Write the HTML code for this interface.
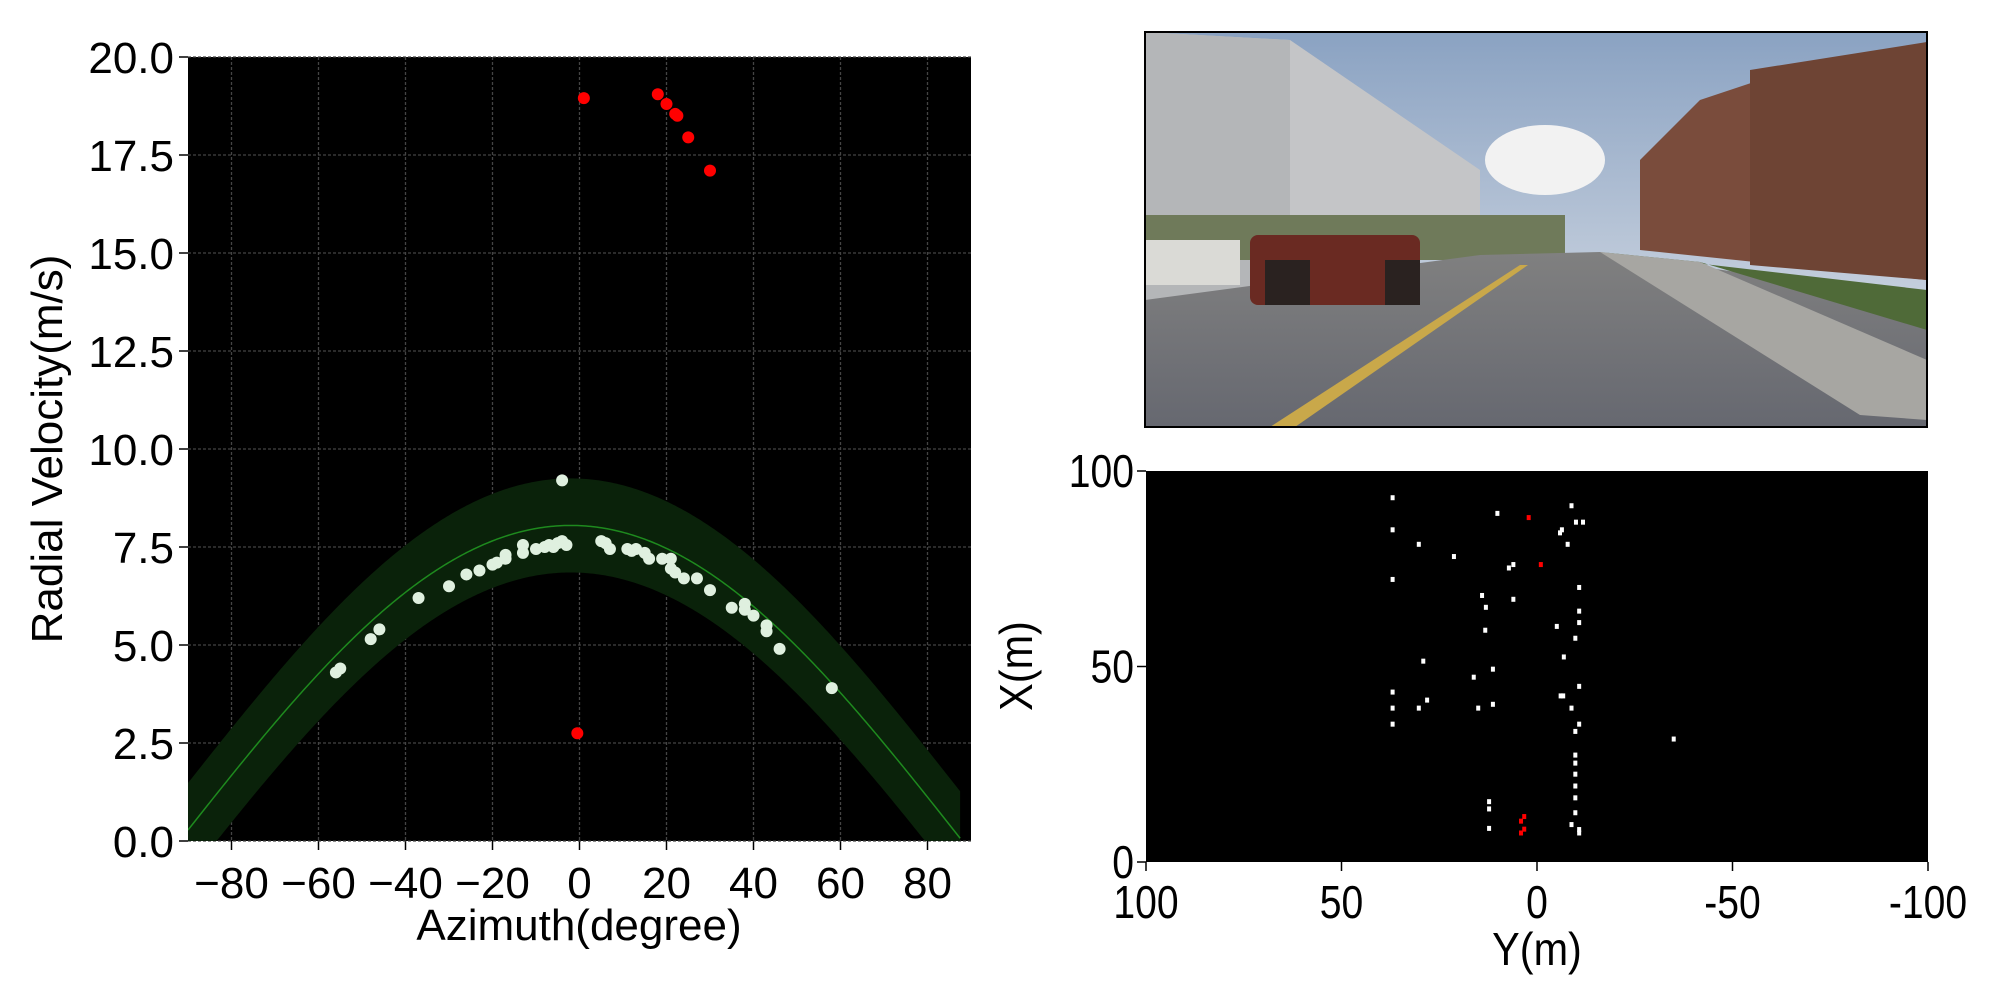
<!DOCTYPE html>
<html><head><meta charset="utf-8"><style>
html,body{margin:0;padding:0;background:#fff;width:2000px;height:1000px;overflow:hidden}
svg{display:block}
text{font-family:"Liberation Sans",sans-serif;fill:#000}
</style></head><body>
<svg id="s" width="2000" height="1000" viewBox="0 0 2000 1000" xmlns="http://www.w3.org/2000/svg">
<defs>
<linearGradient id="sky" x1="0" y1="0" x2="0" y2="1"><stop offset="0" stop-color="#8aa2c2"/><stop offset="1" stop-color="#e2e5ea"/></linearGradient>
<linearGradient id="road" x1="0" y1="0" x2="0" y2="1"><stop offset="0" stop-color="#808080"/><stop offset="1" stop-color="#666870"/></linearGradient>
</defs>
<g>
<rect x="1145" y="32" width="782" height="395" fill="url(#sky)"/>
<ellipse cx="1545" cy="160" rx="60" ry="35" fill="#f2f2f2"/>
<polygon points="1145,32 1290,40 1480,170 1480,250 1145,300" fill="#c4c5c7"/>
<polygon points="1145,32 1290,40 1290,290 1145,300" fill="#b4b6b8"/>
<polygon points="1640,160 1700,100 1760,80 1927,42 1927,280 1640,250" fill="#7a4c3c"/>
<polygon points="1750,70 1927,42 1927,280 1750,265" fill="#6e4434"/>
<rect x="1145" y="215" width="420" height="45" fill="#6f7a5a"/>
<polygon points="1145,300 1480,255 1600,252 1927,300 1927,427 1145,427" fill="url(#road)"/>
<polygon points="1600,252 1927,290 1927,330 1700,262" fill="#4f6a38"/>
<polygon points="1600,252 1700,262 1927,360 1927,420 1860,415" fill="#a7a6a2"/>
<polygon points="1270,427 1520,265 1528,265 1295,427" fill="#c9a84a"/>
<rect x="1250" y="235" width="170" height="70" rx="8" fill="#6a2a22"/>
<rect x="1265" y="260" width="45" height="45" fill="#2a2220"/>
<rect x="1385" y="260" width="35" height="45" fill="#2a2220"/>
<rect x="1145" y="240" width="95" height="45" fill="#dadad6"/>
<rect x="1145" y="32" width="782" height="395" fill="none" stroke="#000" stroke-width="2"/>
</g>
<rect x="188" y="57" width="783" height="784" fill="#000"/>
<g id="lg"></g>
<rect x="1146" y="471" width="782" height="391" fill="#000"/>
<g id="rg"></g>
</svg>
<script>
var NS="http://www.w3.org/2000/svg",lg=document.getElementById('lg'),rg=document.getElementById('rg');
function el(p,t,a,txt){var e=document.createElementNS(NS,t);for(var k in a)e.setAttribute(k,a[k]);if(txt!=null)e.textContent=txt;p.appendChild(e);return e;}
var X0=188,X1=971,Y0=841,Y1=57;
function px(a){return X0+(a+90)/180*(X1-X0);}function py(v){return Y0-v/20*(Y0-Y1);}
for(var a=-80;a<=80;a+=20){el(lg,'line',{x1:px(a),x2:px(a),y1:Y1,y2:Y0,stroke:'#444',"stroke-width":1.3,"stroke-dasharray":"3,2"});
 el(lg,'line',{x1:px(a),x2:px(a),y1:Y0,y2:Y0+9,stroke:'#000',"stroke-width":1.5});
 el(lg,'text',{x:px(a),y:Y0+57,"font-size":44,"text-anchor":"middle"},(a<0?'\u2212':'')+Math.abs(a));}
for(var v=0;v<=20;v+=2.5){el(lg,'line',{x1:X0,x2:X1,y1:py(v),y2:py(v),stroke:'#444',"stroke-width":1.3,"stroke-dasharray":"3,2"});
 el(lg,'line',{x1:X0-9,x2:X0,y1:py(v),y2:py(v),stroke:'#000',"stroke-width":1.5});
 el(lg,'text',{x:X0-14,y:py(v)+16,"font-size":44,"text-anchor":"end"},v.toFixed(1));}
function f(a){return 8.05*Math.cos((a+2)*Math.PI/180);}
var up=[],lo=[],mid=[];
for(var a=-90;a<=87.5;a+=0.5){var m=f(a);up.push(px(a)+','+py(Math.min(m+1.2,20)));lo.unshift(px(a)+','+py(Math.max(m-1.2,0)));if(m>=0)mid.push(px(a)+','+py(m));}
var cp=el(lg,'clipPath',{id:'cl'});el(cp,'rect',{x:X0,y:Y1,width:X1-X0,height:Y0-Y1});
var g2=el(lg,'g',{"clip-path":"url(#cl)"});
el(g2,'polygon',{points:up.concat(lo).join(' '),fill:'#0a220a'});
el(g2,'polyline',{points:mid.join(' '),fill:'none',stroke:'#1e8a1e',"stroke-width":1.5});
var W=[[-56,4.3],[-55,4.4],[-48,5.15],[-46,5.4],[-37,6.2],[-30,6.5],[-26,6.8],[-23,6.9],[-20,7.05],[-19,7.1],[-17,7.2],[-17,7.3],[-13,7.35],[-13,7.55],[-10,7.45],[-8,7.5],[-7,7.55],[-5,7.6],[-4,7.65],[-3,7.55],[-6,7.5],[-4,9.2],[5,7.65],[6,7.6],[7,7.45],[11,7.45],[12,7.4],[13,7.45],[15,7.35],[16,7.2],[19,7.2],[21,7.2],[21,6.95],[22,6.85],[24,6.7],[27,6.7],[30,6.4],[35,5.95],[38,6.05],[38,5.9],[40,5.75],[43,5.5],[43,5.35],[46,4.9],[58,3.9]];
W.forEach(function(p){el(lg,'circle',{cx:px(p[0]),cy:py(p[1]),r:6,fill:'#dff0df'});});
var R=[[1,18.95],[18,19.05],[20,18.8],[22,18.55],[22.5,18.5],[25,17.95],[30,17.1],[-0.5,2.75]];
R.forEach(function(p){el(lg,'circle',{cx:px(p[0]),cy:py(p[1]),r:6,fill:'#f00'});});
el(lg,'text',{x:579,y:940,"font-size":44,"text-anchor":"middle"},'Azimuth(degree)');
el(lg,'text',{x:0,y:0,"font-size":44,"text-anchor":"middle",transform:"translate(62,449) rotate(-90)"},'Radial Velocity(m/s)');
var RX0=1146,RX1=1928,RY0=862,RY1=471;
function qx(Y){return RX0+(100-Y)/200*(RX1-RX0);}function qy(X){return RY0-X/100*(RY0-RY1);}
[100,50,0,-50,-100].forEach(function(Y){el(rg,'line',{x1:qx(Y),x2:qx(Y),y1:RY0,y2:RY0+9,stroke:'#000',"stroke-width":1.5});
 el(rg,'text',{x:0,y:0,"font-size":46,"text-anchor":"middle",transform:"translate("+qx(Y)+","+(RY0+56)+") scale(0.85,1)"},String(Y));});
[0,50,100].forEach(function(X){el(rg,'line',{x1:RX0-9,x2:RX0,y1:qy(X),y2:qy(X),stroke:'#000',"stroke-width":1.5});
 el(rg,'text',{x:0,y:0,"font-size":46,"text-anchor":"end",transform:"translate("+(RX0-12)+","+(qy(X)+16)+") scale(0.85,1)"},String(X));});
el(rg,'text',{x:0,y:0,"font-size":46,"text-anchor":"middle",transform:"translate(1537,965) scale(0.9,1)"},'Y(m)');
el(rg,'text',{x:0,y:0,"font-size":46,"text-anchor":"middle",transform:"translate(1032,666) rotate(-90) scale(0.9,1)"},'X(m)');
function zc(z){return [RX0+(z[0]-229)/1224*(RX1-RX0), RY0-(1210-z[1])/1024*(RY0-RY1)];}
var PW=[[615,256],[615,340],[656,378],[711,410],[615,470],[779,297],[895,277],[902,320],[913,320],[880,340],[877,348],[889,378],[804,431],[797,440],[755,512],[804,522],[907,491],[761,543],[907,553],[907,583],[872,593],[760,603],[901,624],[883,673],[663,684],[772,705],[742,726],[907,750],[878,775],[882,775],[615,765],[669,786],[615,807],[656,807],[749,807],[772,797],[895,807],[615,849],[907,849],[901,868],[1055,888],[901,930],[901,951],[901,980],[901,1011],[901,1042],[766,1052],[766,1071],[901,1081],[895,1112],[766,1122],[907,1125],[907,1134]];
PW.forEach(function(z){var c=zc(z);el(rg,'rect',{x:c[0]-2,y:c[1]-2.5,width:4,height:5,fill:'#fff'});});
var PR=[[828,308],[847,431],[821,1091],[816,1103],[821,1124],[816,1134]];
PR.forEach(function(z){var c=zc(z);el(rg,'rect',{x:c[0]-2,y:c[1]-2.5,width:4,height:5,fill:'#f00'});});
</script>
</body></html>
